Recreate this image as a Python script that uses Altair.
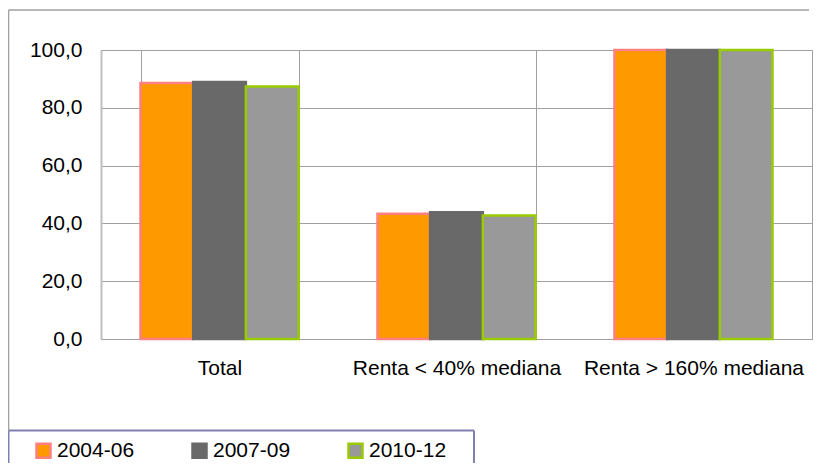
import altair as alt
import pandas as pd

categorias = ["Total", "Renta < 40% mediana", "Renta > 160% mediana"]
series = ["2004-06", "2007-09", "2010-12"]
valores_2004_06 = [88.6, 43.3, 100.0]
valores_2007_09 = [88.9, 43.9, 100.0]
valores_2010_12 = [87.4, 42.7, 100.0]

fill_colors = ["#FF9900", "#696969", "#999999"]
stroke_colors = ["#FF8080", "#696969", "#99CC00"]

rows = []
for s, vals in zip(series, [valores_2004_06, valores_2007_09, valores_2010_12]):
    for c, v in zip(categorias, vals):
        rows.append({"categoria": c, "serie": s, "valor": v})
df = pd.DataFrame(rows)

W, H = 711, 289
FONT = "Liberation Sans"

legend_cfg = dict(title=None, orient="none", direction="horizontal",
                  legendX=-68, legendY=390, symbolType="square",
                  symbolSize=196, symbolStrokeWidth=2.5,
                  labelFontSize=21, labelFont=FONT, labelColor="#000000",
                  labelOffset=3, columnPadding=52, padding=0, labelLimit=0)

bars = alt.Chart(df).mark_bar(strokeWidth=2.5).encode(
    x=alt.X("categoria:N", sort=categorias, title=None,
            scale=alt.Scale(paddingInner=0.333, paddingOuter=0.1667),
            axis=alt.Axis(labelAngle=0, labelFontSize=21, labelFont=FONT, labelColor="#000000",
                          labelLimit=0, tickSize=0, labelPadding=18, grid=True, tickBand="extent",
                          gridColor="#a0a0a0", domainColor="#a0a0a0", domainWidth=1)),
    xOffset=alt.XOffset("serie:N", sort=series, scale=alt.Scale(paddingInner=0, paddingOuter=0)),
    y=alt.Y("valor:Q", title=None,
            scale=alt.Scale(domain=[0, 100], nice=False),
            axis=alt.Axis(values=[0, 20, 40, 60, 80, 100], tickSize=0, labelPadding=19,
                          labelFontSize=21, labelFont=FONT, labelColor="#000000",
                          labelExpr="replace(format(datum.value, '.1f'), '.', ',')",
                          gridColor="#a0a0a0", domainColor="#c0c0c0", domainWidth=2)),
    fill=alt.Fill("serie:N", sort=series, scale=alt.Scale(domain=series, range=fill_colors),
                  legend=alt.Legend(**legend_cfg)),
    stroke=alt.Stroke("serie:N", sort=series, scale=alt.Scale(domain=series, range=stroke_colors),
                      legend=alt.Legend(**legend_cfg)),
)

frame_df = pd.DataFrame({"k": [0]})
frame_top = alt.Chart(frame_df).mark_rule(color="#a0a0a0", strokeWidth=1.5).encode(
    x=alt.value(-92.5), x2=alt.value(708), y=alt.value(-40))
frame_left = alt.Chart(frame_df).mark_rule(color="#a0a0a0", strokeWidth=1.5).encode(
    x=alt.value(-92.5), y=alt.value(-40), y2=alt.value(380))
leg_top = alt.Chart(frame_df).mark_rule(color="#8080b0", strokeWidth=2).encode(
    x=alt.value(-92.5), x2=alt.value(373), y=alt.value(380.5))
leg_left = alt.Chart(frame_df).mark_rule(color="#8080b0", strokeWidth=2).encode(
    x=alt.value(-92.5), y=alt.value(380.5), y2=alt.value(414))
leg_right = alt.Chart(frame_df).mark_rule(color="#8080b0", strokeWidth=2).encode(
    x=alt.value(373), y=alt.value(380.5), y2=alt.value(414))

chart = alt.layer(bars, frame_top, frame_left, leg_top, leg_left, leg_right).properties(
    width=W, height=H,
    autosize=alt.AutoSizeParams(type="none"),
    padding={"left": 93, "top": 42, "right": 5, "bottom": 124},
    background="#ffffff",
).configure_view(stroke="#a0a0a0", strokeWidth=1)

chart.save("out.html", embed_options={"renderer": "svg", "actions": False})
